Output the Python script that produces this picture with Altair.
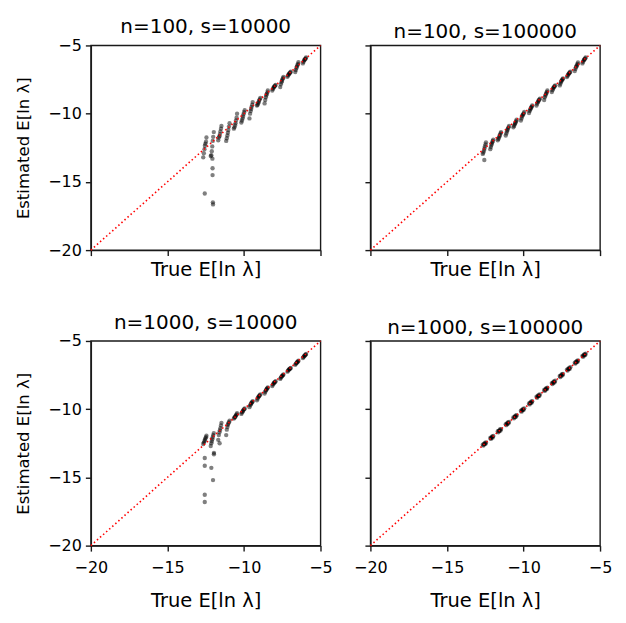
import altair as alt
import pandas as pd

FONT = "DejaVu Sans"

# True E[ln lambda] values (shared by all four panels), 14 clusters x 7
true_x = [
    -12.66, -12.62, -12.58, -12.55, -12.52, -12.48, -12.45,
    -12.17, -12.13, -12.10, -12.07, -12.04, -12.01, -11.97,
    -11.68, -11.64, -11.60, -11.57, -11.54, -11.50, -11.47,
    -11.16, -11.12, -11.08, -11.05, -11.02, -10.98, -10.94,
    -10.66, -10.62, -10.58, -10.55, -10.52, -10.48, -10.45,
    -10.17, -10.13, -10.09, -10.06, -10.03, -9.99, -9.95,
    -9.64, -9.60, -9.56, -9.53, -9.50, -9.46, -9.43,
    -9.15, -9.11, -9.07, -9.04, -9.01, -8.97, -8.93,
    -8.65, -8.61, -8.57, -8.54, -8.51, -8.47, -8.44,
    -8.15, -8.11, -8.07, -8.04, -8.01, -7.97, -7.93,
    -7.63, -7.59, -7.55, -7.52, -7.49, -7.45, -7.42,
    -7.16, -7.12, -7.08, -7.05, -7.02, -6.98, -6.94,
    -6.65, -6.61, -6.57, -6.54, -6.51, -6.47, -6.44,
    -6.15, -6.11, -6.07, -6.04, -6.01, -5.97, -5.94,
]

# Estimated E[ln lambda], n=100, s=10000
est_a = [
    -13.2, -12.9, -12.6, -12.35, -12.2, -12.05, -11.75,
    -13.1, -13.05, -12.75, -12.4, -12.0, -11.7, -11.35,
    -11.95, -11.75, -11.65, -11.5, -11.3, -11.1, -10.9,
    -12.0, -11.8, -11.6, -11.4, -11.2, -10.95, -10.7,
    -11.1, -11.0, -10.85, -10.7, -10.5, -10.3, -10.0,
    -10.65, -10.5, -10.35, -10.2, -10.05, -9.9, -9.75,
    -10.35, -10.0, -9.8, -9.65, -9.5, -9.35, -9.15,
    -9.4, -9.35, -9.25, -9.15, -9.05, -8.95, -8.85,
    -9.25, -9.0, -8.8, -8.65, -8.55, -8.45, -8.3,
    -8.3, -8.2, -8.1, -8.05, -8.0, -7.95, -7.9,
    -8.05, -7.85, -7.7, -7.6, -7.5, -7.4, -7.3,
    -7.3, -7.2, -7.13, -7.08, -7.03, -6.98, -6.92,
    -6.95, -6.8, -6.65, -6.55, -6.45, -6.35, -6.22,
    -6.32, -6.2, -6.1, -6.05, -6.0, -5.95, -5.88,
]
extra_a_x = [-12.56, -12.05, -12.05, -12.03, -12.02, -12.06]
extra_a_y = [-15.85, -14.0, -14.5, -16.5, -16.65, -13.3]

# n=100, s=100000
est_b = [
    -12.95, -12.85, -12.7, -12.55, -12.4, -12.25, -12.1,
    -12.6, -12.45, -12.3, -12.2, -12.1, -12.0, -11.9,
    -11.95, -11.85, -11.75, -11.65, -11.55, -11.45, -11.35,
    -11.6, -11.45, -11.3, -11.2, -11.1, -11.0, -10.9,
    -11.0, -10.9, -10.8, -10.72, -10.65, -10.55, -10.45,
    -10.5, -10.35, -10.2, -10.12, -10.05, -9.98, -9.88,
    -9.95, -9.8, -9.7, -9.62, -9.55, -9.48, -9.4,
    -9.4, -9.27, -9.17, -9.1, -9.03, -8.97, -8.9,
    -9.0, -8.8, -8.68, -8.58, -8.5, -8.4, -8.3,
    -8.42, -8.28, -8.17, -8.1, -8.05, -7.99, -7.93,
    -7.93, -7.8, -7.68, -7.6, -7.54, -7.48, -7.42,
    -7.32, -7.22, -7.14, -7.08, -7.03, -6.98, -6.93,
    -6.88, -6.72, -6.6, -6.52, -6.45, -6.35, -6.25,
    -6.32, -6.2, -6.1, -6.05, -6.0, -5.95, -5.88,
]
extra_b_x = [-12.56]
extra_b_y = [-13.4]

# n=1000, s=10000
est_c = [
    -12.55, -12.45, -12.35, -12.25, -12.15, -12.05, -11.95,
    -12.7, -12.5, -12.35, -12.2, -12.05, -11.9, -11.75,
    -12.25, -11.9, -11.7, -11.55, -11.4, -11.2, -11.0,
    -11.9, -11.5, -11.3, -11.15, -11.05, -10.95, -10.85,
    -10.68, -10.62, -10.57, -10.52, -10.45, -10.38, -10.3,
    -10.35, -10.25, -10.18, -10.12, -10.05, -10.0, -9.95,
    -9.85, -9.72, -9.65, -9.58, -9.53, -9.48, -9.42,
    -9.35, -9.22, -9.14, -9.08, -9.03, -8.98, -8.92,
    -8.85, -8.72, -8.64, -8.58, -8.52, -8.46, -8.4,
    -8.3, -8.2, -8.13, -8.08, -8.04, -8.0, -7.95,
    -7.78, -7.7, -7.63, -7.58, -7.54, -7.5, -7.45,
    -7.25, -7.18, -7.12, -7.08, -7.05, -7.02, -6.98,
    -6.75, -6.68, -6.62, -6.58, -6.54, -6.5, -6.45,
    -6.25, -6.18, -6.12, -6.08, -6.04, -6.0, -5.95,
]
extra_c_x = [-12.56, -12.56, -12.13, -12.02, -12.56, -12.56, -11.96, -11.96, -11.59]
extra_c_y = [-13.58, -14.15, -14.3, -15.2, -16.27, -16.8, -13.2, -13.3, -12.5]

# n=1000, s=100000
est_d = [
    -12.60, -12.67, -12.55, -12.57, -12.47, -12.54, -12.44,
    -12.11, -12.18, -12.07, -12.09, -11.99, -12.07, -11.96,
    -11.62, -11.69, -11.57, -11.59, -11.49, -11.56, -11.46,
    -11.10, -11.17, -11.05, -11.07, -10.97, -11.04, -10.93,
    -10.60, -10.67, -10.55, -10.57, -10.47, -10.54, -10.44,
    -10.11, -10.18, -10.06, -10.08, -9.98, -10.05, -9.94,
    -9.58, -9.65, -9.53, -9.55, -9.45, -9.52, -9.42,
    -9.09, -9.16, -9.04, -9.06, -8.96, -9.03, -8.92,
    -8.59, -8.66, -8.54, -8.56, -8.46, -8.53, -8.43,
    -8.09, -8.16, -8.04, -8.06, -7.96, -8.03, -7.92,
    -7.57, -7.64, -7.52, -7.54, -7.44, -7.51, -7.41,
    -7.10, -7.17, -7.05, -7.07, -6.97, -7.04, -6.93,
    -6.59, -6.66, -6.54, -6.56, -6.46, -6.53, -6.43,
    -6.09, -6.16, -6.04, -6.06, -5.96, -6.03, -5.93,
]

titles = ["n=100, s=10000", "n=100, s=100000", "n=1000, s=10000", "n=1000, s=100000"]
tick_vals = [-20, -15, -10, -5]
diag_x = [-20, -5]
diag_y = [-20, -5]
x_title = "True E[ln λ]"
y_title = "Estimated E[ln λ]"

INK = "#1a1a1a"


def panel(title, xs, ys, xlabels, ylabels):
    df = pd.DataFrame({"x": xs, "y": ys})
    dg = pd.DataFrame({"x": diag_x, "y": diag_y})
    sc = alt.Scale(domain=[-20, -5], nice=False, zero=False)
    xax = alt.Axis(values=tick_vals, labels=xlabels, title=x_title, grid=False,
                   domainColor=INK, domainWidth=1.4, tickColor=INK, tickWidth=1.4,
                   tickSize=5.5, labelFont=FONT, labelFontSize=16, labelColor="black",
                   labelPadding=8, titleFont=FONT, titleFontSize=19.5,
                   titleFontWeight="normal", titleColor="black",
                   titlePadding=16 if xlabels else 4, labelFlush=False)
    yax = alt.Axis(values=tick_vals, labels=ylabels, title=y_title if ylabels else "",
                   grid=False, domainColor=INK, domainWidth=1.4, tickColor=INK,
                   tickWidth=1.4, tickSize=5.5, labelFont=FONT, labelFontSize=16,
                   labelColor="black", labelPadding=4, titleFont=FONT,
                   titleFontSize=16.5, titleFontWeight="normal", titleColor="black",
                   titlePadding=16, labelFlush=False)
    enc_x = alt.X("x:Q", scale=sc, axis=xax)
    enc_y = alt.Y("y:Q", scale=sc, axis=yax)
    pts = alt.Chart(df).mark_circle(size=19, opacity=0.5, color="black", stroke=None).encode(
        x=enc_x, y=enc_y)
    line = alt.Chart(dg).mark_line(color="red", strokeDash=[1.5, 2.6], strokeWidth=1.6,
                                   strokeCap="butt").encode(x=enc_x, y=enc_y)
    return alt.layer(pts, line).properties(
        width=230, height=205,
        title=alt.TitleParams(title, font=FONT, fontSize=20, fontWeight="normal",
                              color="black", anchor="middle", baseline="alphabetic",
                              offset=-16),
    )


pa = panel(titles[0], true_x + extra_a_x, est_a + extra_a_y, False, True)
pb = panel(titles[1], true_x + extra_b_x, est_b + extra_b_y, False, False)
pc = panel(titles[2], true_x + extra_c_x, est_c + extra_c_y, True, True)
pd_ = panel(titles[3], true_x, est_d, True, False)

chart = alt.concat(
    pa, pb, pc, pd_, columns=2,
    spacing=alt.RowColnumber(row=91, column=50), bounds="flush",
).properties(
    padding={"left": 7, "top": 8, "right": 5, "bottom": 5},
    background="white",
).configure_view(stroke=INK, strokeWidth=1.4)

chart.save("out.html", embed_options={"renderer": "svg", "actions": False})
